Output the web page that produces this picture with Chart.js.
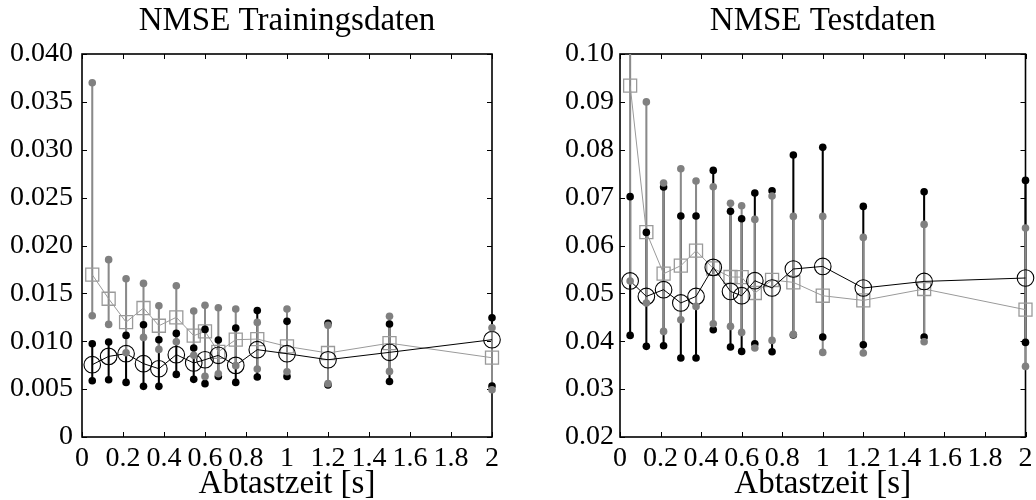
<!DOCTYPE html>
<html>
<head>
<meta charset="utf-8">
<script src="https://cdn.jsdelivr.net/npm/chart.js@4/dist/chart.umd.min.js"></script>
<style>
  html, body { margin: 0; padding: 0; background: #fff; }
  #wrap { position: relative; width: 1036px; height: 500px; overflow: hidden; }
  canvas { position: absolute; top: 0; }
  #c1 { left: 0; }
  #c2 { left: 518px; }
</style>
</head>
<body>
<div id="wrap">
  <canvas id="c1" width="518" height="500"></canvas>
  <canvas id="c2" width="518" height="500"></canvas>
</div>
<script>
// ---- Data ----
const sampleTimes = [0.05, 0.13, 0.215, 0.3, 0.375, 0.46, 0.545, 0.6, 0.665, 0.75, 0.855, 1.0, 1.2, 1.5, 2.0];
const xTicks = [0, 0.2, 0.4, 0.6, 0.8, 1, 1.2, 1.4, 1.6, 1.8, 2];

// Training NMSE
const trainBlackMean = [0.00755, 0.00842, 0.0087, 0.00766, 0.00713, 0.0086, 0.00773, 0.00807, 0.00853, 0.00748, 0.00912, 0.0087, 0.00807, 0.00884, 0.01016];
const trainBlackMin  = [0.00588, 0.00598, 0.0057, 0.00529, 0.00529, 0.00654, 0.00602, 0.00557, 0.00633, 0.0057, 0.00627, 0.00633, 0.00543, 0.0058, 0.00533];
const trainBlackMax  = [0.00974, 0.00992, 0.01061, 0.01173, 0.01016, 0.01082, 0.0093, 0.01124, 0.01013, 0.01138, 0.0132, 0.01208, 0.01187, 0.0118, 0.01246];
const trainGrayMean  = [0.01695, 0.01444, 0.0120, 0.01347, 0.01162, 0.0125, 0.01058, 0.01103, 0.0089, 0.01016, 0.01023, 0.00946, 0.00877, 0.0098, 0.00828];
const trainGrayMin   = [0.01267, 0.01176, 0.0088, 0.0104, 0.00915, 0.00995, 0.00853, 0.00633, 0.0066, 0.00745, 0.0071, 0.00682, 0.00557, 0.00685, 0.00494];
const trainGrayMax   = [0.0370, 0.01852, 0.01653, 0.01604, 0.01371, 0.0158, 0.01316, 0.01375, 0.0135, 0.01337, 0.01197, 0.01337, 0.01166, 0.0126, 0.01141];
const trainYTicks    = [0, 0.005, 0.010, 0.015, 0.020, 0.025, 0.030, 0.035, 0.040];

// Test NMSE
const testBlackMean = [0.0526, 0.04937, 0.05077, 0.048, 0.04937, 0.05543, 0.05041, 0.04951, 0.05265, 0.05112, 0.05509, 0.05563, 0.05112, 0.0525, 0.05321];
const testBlackMin  = [0.04122, 0.03893, 0.03907, 0.0365, 0.0365, 0.04241, 0.0388, 0.03788, 0.03949, 0.03782, 0.0413, 0.04089, 0.03928, 0.04089, 0.03976];
const testBlackMax  = [0.0702, 0.06274, 0.07222, 0.06616, 0.06616, 0.07569, 0.06713, 0.0656, 0.07097, 0.07145, 0.0789, 0.0805, 0.06817, 0.07124, 0.0736];
const testGrayMean  = [0.0934, 0.0628, 0.05411, 0.05578, 0.05891, 0.0552, 0.05342, 0.0534, 0.05008, 0.0528, 0.0523, 0.04951, 0.04853, 0.05091, 0.04659];
const testGrayMin   = [0.0526, 0.048, 0.04206, 0.0445, 0.04728, 0.04367, 0.0431, 0.04185, 0.03859, 0.04018, 0.04143, 0.03767, 0.03754, 0.0399, 0.03475];
const testGrayMax   = [0.12, 0.0900, 0.07305, 0.07604, 0.07347, 0.07228, 0.0688, 0.06831, 0.06545, 0.07034, 0.06608, 0.06608, 0.06169, 0.06441, 0.06365];
const testYTicks    = [0.02, 0.03, 0.04, 0.05, 0.06, 0.07, 0.08, 0.09, 0.10];

const titles = ['NMSE Trainingsdaten', 'NMSE Testdaten'];
const xLabel = 'Abtastzeit [s]';

// ---- Styling ----
const FONT = "'Liberation Serif', 'Times New Roman', serif";
const BLACK = '#000000';
const GRAY_DOT = '#808080';
const GRAY_BAR = '#8a8a8a';
const GRAY_SQ = '#9a9a9a';
const CLIP = {left: 20, right: 20, top: 0, bottom: 20};

const framePlugin = {
  id: 'frame',
  beforeDatasetsDraw(chart) {
    const {ctx, chartArea: a, scales} = chart;
    ctx.save();
    ctx.strokeStyle = '#000';
    ctx.lineWidth = 1;
    const len = 5;
    ctx.beginPath();
    scales.x.ticks.forEach(t => {
      const px = Math.round(scales.x.getPixelForValue(t.value)) + 0.5;
      ctx.moveTo(px, a.bottom); ctx.lineTo(px, a.bottom - len);
      ctx.moveTo(px, a.top); ctx.lineTo(px, a.top + len);
    });
    scales.y.ticks.forEach(t => {
      const py = Math.round(scales.y.getPixelForValue(t.value)) + 0.5;
      ctx.moveTo(a.left, py); ctx.lineTo(a.left + len, py);
      ctx.moveTo(a.right, py); ctx.lineTo(a.right - len, py);
    });
    ctx.stroke();
    ctx.lineWidth = 1.6;
    ctx.strokeRect(a.left, a.top, a.right - a.left, a.bottom - a.top);
    ctx.restore();
  }
};

function pts(xs, ys) { return xs.map((x, i) => ({x: x, y: ys[i]})); }
function ranges(xs, lo, hi) { return xs.map((x, i) => ({x: x, y: [lo[i], hi[i]]})); }

function makeChart(canvasId, cfg) {
  const datasets = [
    // dots (top)
    { type: 'scatter', data: pts(sampleTimes, cfg.grayMin).concat(pts(sampleTimes, cfg.grayMax)),
      pointRadius: 3.8, pointBackgroundColor: GRAY_DOT, pointBorderWidth: 0, showLine: false, order: 0, clip: CLIP },
    { type: 'scatter', data: pts(sampleTimes, cfg.blackMin).concat(pts(sampleTimes, cfg.blackMax)),
      pointRadius: 3.8, pointBackgroundColor: BLACK, pointBorderWidth: 0, showLine: false, order: 1, clip: CLIP },
    // mean lines
    { type: 'line', data: pts(sampleTimes, cfg.blackMean), borderColor: BLACK, borderWidth: 1,
      pointStyle: 'circle', pointRadius: 8.3, pointBorderColor: BLACK, pointBorderWidth: 1.1,
      pointBackgroundColor: 'rgba(0,0,0,0)', tension: 0, fill: false, order: 2, clip: CLIP },
    { type: 'line', data: pts(sampleTimes, cfg.grayMean), borderColor: GRAY_SQ, borderWidth: 1,
      pointStyle: 'rect', pointRadius: 9.2, pointBorderColor: GRAY_SQ, pointBorderWidth: 1.3,
      pointBackgroundColor: 'rgba(0,0,0,0)', tension: 0, fill: false, order: 3, clip: CLIP },
    // range bars
    { type: 'bar', data: ranges(sampleTimes, cfg.grayMin, cfg.grayMax), backgroundColor: GRAY_BAR,
      barThickness: 1.4, grouped: false, borderWidth: 0, order: 4, clip: CLIP },
    { type: 'bar', data: ranges(sampleTimes, cfg.blackMin, cfg.blackMax), backgroundColor: BLACK,
      barThickness: 1.4, grouped: false, borderWidth: 0, order: 5, clip: CLIP }
  ];

  return new Chart(document.getElementById(canvasId), {
    type: 'line',
    data: { datasets: datasets },
    plugins: [framePlugin],
    options: {
      responsive: false,
      animation: false,
      devicePixelRatio: 1,
      events: [],
      layout: { padding: { left: 0, right: cfg.padRight, top: 0, bottom: 0 } },
      plugins: {
        legend: { display: false },
        tooltip: { enabled: false },
        title: {
          display: true, text: cfg.title, fullSize: false, color: '#000',
          font: { family: FONT, size: 33, weight: 'normal', lineHeight: 1.0 },
          padding: { top: 5, bottom: 16 }
        }
      },
      scales: {
        x: {
          type: 'linear', min: 0, max: 2, offset: false,
          afterBuildTicks: s => { s.ticks = xTicks.map(v => ({value: v})); },
          afterFit: s => { s.height = 63; s.paddingLeft = 0; s.paddingRight = 0; },
          grid: { display: false, drawTicks: false },
          border: { display: false },
          ticks: {
            autoSkip: false, maxRotation: 0, minRotation: 0, padding: 5, color: '#000',
            font: { family: FONT, size: 28 },
            callback: v => String(+Number(v).toFixed(1))
          },
          title: {
            display: true, text: xLabel, color: '#000',
            font: { family: FONT, size: 33, lineHeight: 0.95 },
            padding: { top: 0, bottom: 0 }
          }
        },
        y: {
          type: 'linear', min: cfg.yMin, max: cfg.yMax,
          afterBuildTicks: s => { s.ticks = cfg.yTicks.map(v => ({value: v})); },
          afterFit: s => { s.width = cfg.yWidth; s.paddingTop = 0; s.paddingBottom = 0; },
          grid: { display: false, drawTicks: false },
          border: { display: false },
          ticks: {
            autoSkip: false, padding: cfg.yPad, color: '#000',
            font: { family: FONT, size: 28 },
            callback: cfg.yFmt
          }
        }
      }
    }
  });
}

makeChart('c1', {
  title: titles[0], padRight: 26, yWidth: 82, yPad: 9,
  yMin: 0, yMax: 0.04, yTicks: trainYTicks,
  yFmt: v => (Math.abs(v) < 1e-12 ? '0' : Number(v).toFixed(3)),
  blackMean: trainBlackMean, blackMin: trainBlackMin, blackMax: trainBlackMax,
  grayMean: trainGrayMean, grayMin: trainGrayMin, grayMax: trainGrayMax
});

makeChart('c2', {
  title: titles[1], padRight: 6, yWidth: 102, yPad: 6,
  yMin: 0.02, yMax: 0.10, yTicks: testYTicks,
  yFmt: v => Number(v).toFixed(2),
  blackMean: testBlackMean, blackMin: testBlackMin, blackMax: testBlackMax,
  grayMean: testGrayMean, grayMin: testGrayMin, grayMax: testGrayMax
});
</script>
</body>
</html>
